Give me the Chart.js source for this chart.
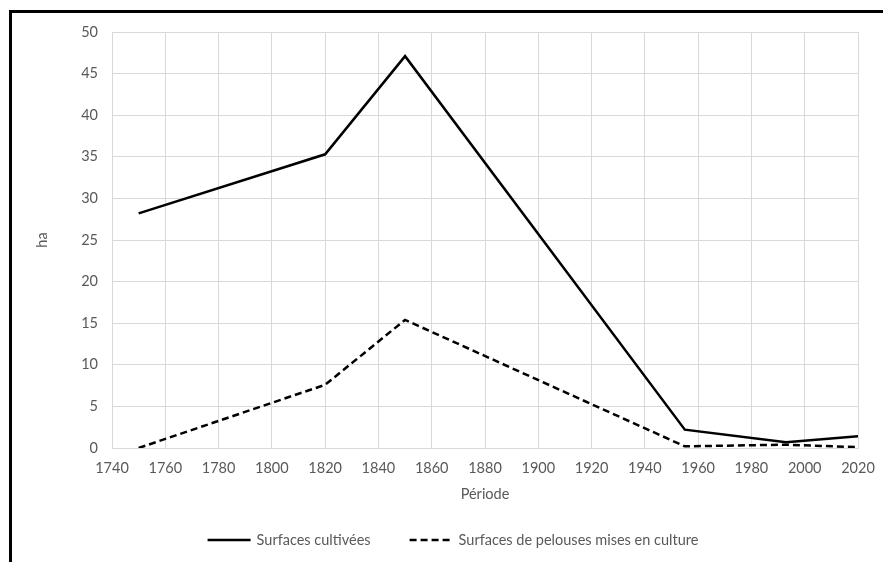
<!DOCTYPE html>
<html>
<head>
<meta charset="utf-8">
<script src="https://cdn.jsdelivr.net/npm/chart.js@4/dist/chart.umd.min.js"></script>
<style>
  html, body { margin: 0; padding: 0; background: #fff; overflow: hidden; }
  #wrap { position: relative; width: 883px; height: 562px; }
  #frame { position: absolute; left: 9px; top: 10px; width: 900px; height: 600px;
           border-top: 3px solid #000; border-left: 3px solid #000; pointer-events: none; }
</style>
</head>
<body>
<div id="wrap">
  <canvas id="chart" width="883" height="562"></canvas>
  <div id="frame"></div>
</div>
<script>
// Périodes et surfaces (ha)
const years = [1750, 1820, 1850, 1955, 1993, 2020];
const cultivees = [28.2, 35.3, 47.1, 2.2, 0.7, 1.4];
const pelouses = [0, 7.6, 15.4, 0.2, 0.4, 0.1];
const seriesNames = ['Surfaces cultivées', 'Surfaces de pelouses mises en culture'];
const xTitle = 'Période';
const yTitle = 'ha';

const grey = '#595959';
const font = { family: 'Lato, "Open Sans", sans-serif', size: 14.5 };

// légende dessinée à la main pour avoir des traits longs comme dans Excel
const bottomLegend = {
    id: 'bottomLegend',
    afterDraw(chart) {
        const ctx = chart.ctx;
        const sample = 43, gap = 6, between = 39;
        const y = 540;
        ctx.save();
        ctx.font = font.size + 'px ' + font.family;
        const items = chart.data.datasets.map(ds => ({ ds, w: ctx.measureText(ds.label).width }));
        const total = items.reduce((s, it) => s + sample + gap + it.w, 0) + between * (items.length - 1);
        let x = 453 - total / 2;
        items.forEach(it => {
            ctx.strokeStyle = it.ds.borderColor;
            ctx.lineWidth = it.ds.borderWidth;
            ctx.setLineDash(it.ds.borderDash || []);
            ctx.beginPath();
            ctx.moveTo(x, y);
            ctx.lineTo(x + sample, y);
            ctx.stroke();
            ctx.setLineDash([]);
            ctx.fillStyle = grey;
            ctx.textBaseline = 'middle';
            ctx.fillText(it.ds.label, x + sample + gap, y);
            x += sample + gap + it.w + between;
        });
        ctx.restore();
    }
};

new Chart(document.getElementById('chart'), {
    type: 'line',
    data: {
        datasets: [
            {
                label: seriesNames[0],
                data: years.map((yr, i) => ({ x: yr, y: cultivees[i] })),
                borderColor: '#000',
                borderWidth: 2.5,
                borderCapStyle: 'butt',
                pointRadius: 0,
                tension: 0
            },
            {
                label: seriesNames[1],
                data: years.map((yr, i) => ({ x: yr, y: pelouses[i] })),
                borderColor: '#000',
                borderWidth: 2.5,
                borderDash: [7, 4],
                borderCapStyle: 'butt',
                pointRadius: 0,
                tension: 0
            }
        ]
    },
    options: {
        responsive: false,
        animation: false,
        layout: { padding: { left: 34, top: 32, right: 25, bottom: 59 } },
        plugins: { legend: { display: false }, tooltip: { enabled: false } },
        scales: {
            x: {
                type: 'linear',
                min: 1740,
                max: 2020,
                afterFit: s => { s.height = 55; },
                ticks: { stepSize: 20, color: grey, font, padding: 4, callback: v => String(v) },
                // marques invisibles : elles ne servent qu'à décaler les libellés
                grid: { color: '#d9d9d9', drawTicks: true, tickLength: 8, tickColor: 'rgba(0,0,0,0)' },
                border: { color: '#d9d9d9' },
                title: { display: true, text: xTitle, color: grey, font, padding: { top: 0, bottom: 0 } }
            },
            y: {
                min: 0,
                max: 50,
                afterFit: s => { s.width = 78; },
                ticks: { stepSize: 5, color: grey, font, padding: 14 },
                grid: { color: '#d9d9d9', drawTicks: false },
                border: { color: '#d9d9d9' },
                title: { display: true, text: yTitle, color: grey, font, padding: { top: 0, bottom: 0 } }
            }
        }
    },
    plugins: [bottomLegend]
});
</script>
</body>
</html>
